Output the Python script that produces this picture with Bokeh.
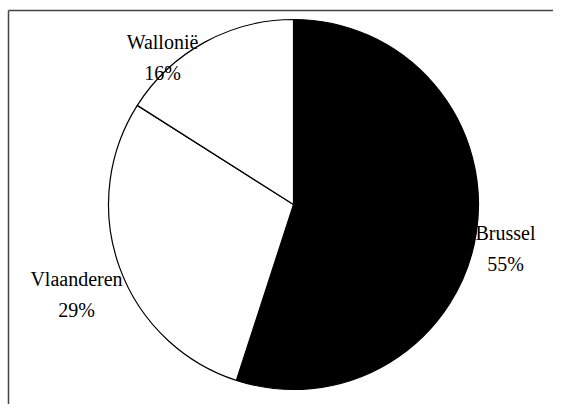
import math
from bokeh.plotting import figure
from bokeh.models import ColumnDataSource, Range1d
from bokeh.core.properties import value
from bokeh.embed import file_html
from bokeh.resources import INLINE

# ---- data ----
regions = ["Brussel", "Vlaanderen", "Wallonië"]
shares = [55, 29, 16]
colors = ["#000000", "#ffffff", "#ffffff"]

# ---- layout (pixel-like data coordinates) ----
W, H = 553, 404
cx, cy, r = 293, 200, 185
label_x = [505, 76, 162]
label_y = [156, 110, 347]

total = float(sum(shares))
starts, ends = [], []
a = math.pi / 2
for s in shares:
    starts.append(a)
    a -= 2 * math.pi * s / total
    ends.append(a)

src = ColumnDataSource(dict(start=starts, end=ends, color=colors,
                            x=[cx] * len(shares), y=[cy] * len(shares)))

p = figure(width=W, height=H, output_backend="svg", toolbar_location=None,
           x_range=Range1d(0, W), y_range=Range1d(0, H), min_border=0)
p.axis.visible = False
p.grid.visible = False
p.outline_line_color = None
p.background_fill_color = "white"

# frame (top and left edges of the scanned box)
p.segment(x0=[8, 8], y0=[394, 394], x1=[W, 8], y1=[394, 0],
          line_color="#444444", line_width=1.5)

p.wedge(x="x", y="y", radius=r, start_angle="start", end_angle="end",
        direction="clock", fill_color="color", line_color="black",
        line_width=1.2, source=src)

lab = ColumnDataSource(dict(
    x=label_x, y=label_y,
    text=[f"{n}\n{v}%" for n, v in zip(regions, shares)]))
p.text(x="x", y="y", text="text", source=lab, text_align="center",
       text_baseline="middle", text_font=value("Liberation Serif"),
       text_font_size="20px", text_color="black",
       text_line_height=1.4)

open("out.html", "w").write(file_html(p, INLINE))
